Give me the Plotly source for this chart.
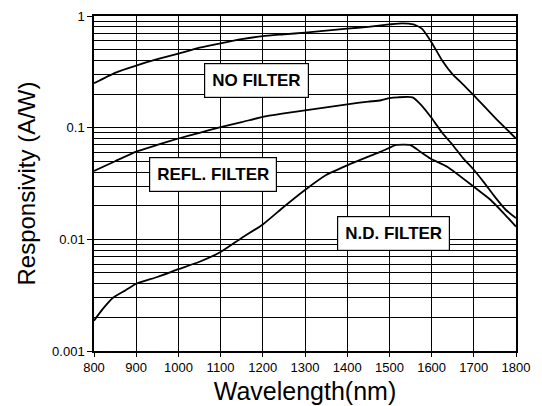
import math
import plotly.graph_objects as go

# Wavelength (nm) and responsivity (A/W)
wl_none = [800, 850, 900, 950, 1000, 1050, 1100, 1150, 1200, 1250, 1300, 1350, 1400,
           1450, 1500, 1530, 1557, 1577, 1600, 1625, 1650, 1675, 1700, 1750, 1800]
resp_none = [0.25, 0.31, 0.36, 0.41, 0.46, 0.52, 0.57, 0.62, 0.66, 0.685, 0.71, 0.74, 0.77,
             0.80, 0.84, 0.86, 0.84, 0.77, 0.58, 0.40, 0.30, 0.243, 0.195, 0.123, 0.080]

wl_refl = [800, 850, 900, 950, 1000, 1050, 1100, 1150, 1200, 1250, 1300, 1350, 1400,
           1450, 1480, 1500, 1520, 1555, 1575, 1600, 1625, 1650, 1675, 1700, 1725, 1750, 1775, 1800]
resp_refl = [0.041, 0.05, 0.061, 0.07, 0.080, 0.09, 0.101, 0.112, 0.125, 0.134, 0.143, 0.152, 0.162,
             0.171, 0.176, 0.184, 0.187, 0.187, 0.16, 0.122, 0.09, 0.07, 0.053, 0.042, 0.032,
             0.024, 0.0185, 0.0155]

wl_nd = [800, 820, 845, 875, 900, 950, 1000, 1050, 1100, 1150, 1200, 1250, 1300, 1350, 1400,
         1450, 1480, 1500, 1514, 1550, 1573, 1597, 1637, 1700, 1740, 1771, 1800]
resp_nd = [0.00187, 0.00236, 0.0030, 0.0035, 0.0040, 0.0046, 0.0054, 0.0063, 0.0077, 0.0103, 0.0136,
           0.0196, 0.0277, 0.0377, 0.046, 0.055, 0.061, 0.066, 0.0698, 0.0698, 0.061, 0.053,
           0.0447, 0.0296, 0.0225, 0.0171, 0.013]

labels = ["NO FILTER", "REFL. FILTER", "N.D. FILTER"]
label_x = [1186, 1083, 1510]
label_y = [0.265, 0.0378, 0.0113]

x_ticks = [800, 900, 1000, 1100, 1200, 1300, 1400, 1500, 1600, 1700, 1800]
y_ticks = [0.001, 0.01, 0.1, 1]
y_ticktext = ["0.001", "0.01", "0.1", "1"]
y_minor = [m * d for d in (0.001, 0.01, 0.1) for m in range(2, 10)]

FONT = "Liberation Sans, Arial, Helvetica, sans-serif"

fig = go.Figure()
for xs, ys, name in [(wl_none, resp_none, labels[0]), (wl_refl, resp_refl, labels[1]),
                     (wl_nd, resp_nd, labels[2])]:
    fig.add_trace(go.Scatter(x=xs, y=ys, mode="lines", name=name,
                             line=dict(color="black", width=1.8, shape="spline", smoothing=0.5),
                             showlegend=False))

for t, x, y in zip(labels, label_x, label_y):
    fig.add_annotation(x=x, y=math.log10(y), yref="y", xref="x", text="<b>" + t + "</b>",
                       showarrow=False,
                       font=dict(family=FONT, size=17, color="black"),
                       bgcolor="white", bordercolor="black", borderwidth=1.2, borderpad=7)

fig.update_layout(
    width=534, height=398,
    margin=dict(l=86, r=26, t=8, b=55),
    paper_bgcolor="white", plot_bgcolor="white",
    font=dict(family=FONT, color="black"),
    xaxis=dict(range=[800, 1800], tickvals=x_ticks, ticks="outside", ticklen=4,
               tickcolor="black", showgrid=True, gridcolor="black", gridwidth=1,
               showline=True, linecolor="black", linewidth=1.5, mirror=True, zeroline=False,
               tickfont=dict(size=13), automargin=False,
               title=dict(text="Wavelength(nm)", font=dict(size=25), standoff=8)),
    yaxis=dict(type="log", range=[-3, 0], tickvals=y_ticks, ticktext=y_ticktext,
               ticks="outside", ticklen=5, tickcolor="black",
               showgrid=True, gridcolor="black", gridwidth=1,
               minor=dict(tickvals=y_minor, showgrid=True, gridcolor="black", gridwidth=1, ticks=""),
               showline=True, linecolor="black", linewidth=1.5, mirror=True, zeroline=False,
               tickfont=dict(size=13), automargin=False,
               title=dict(text="Responsivity (A/W)", font=dict(size=24), standoff=10)),
)

fig.write_html("out.html")
